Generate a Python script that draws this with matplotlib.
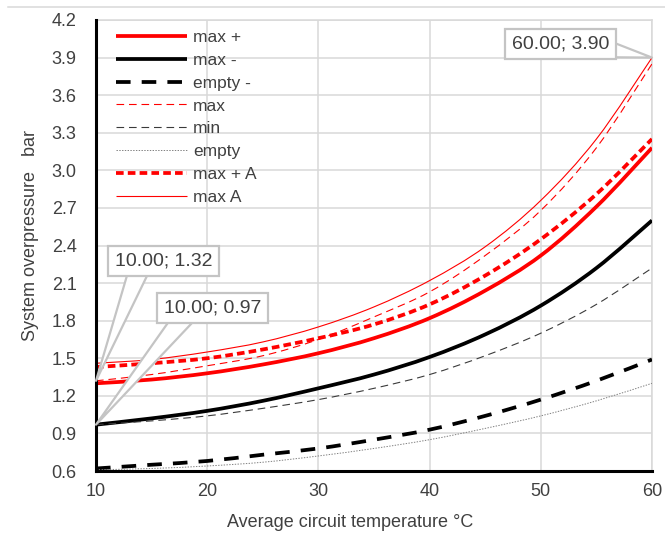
import matplotlib
matplotlib.use("Agg")
import matplotlib.pyplot as plt
from matplotlib.lines import Line2D
from matplotlib.path import Path
from matplotlib.patches import PathPatch

plt.rcParams['font.family'] = ['Liberation Sans', 'DejaVu Sans']
plt.rcParams['lines.scale_dashes'] = False

# ---- data ----
temperature = [10, 15, 20, 25, 30, 35, 40, 45, 50, 55, 60]
max_plus = [1.30, 1.33, 1.38, 1.45, 1.54, 1.66, 1.82, 2.04, 2.32, 2.71, 3.18]
max_minus = [0.97, 1.02, 1.08, 1.16, 1.26, 1.37, 1.51, 1.69, 1.92, 2.22, 2.60]
empty_minus = [0.62, 0.65, 0.68, 0.73, 0.78, 0.85, 0.93, 1.04, 1.17, 1.32, 1.49]
max_ = [1.32, 1.37, 1.44, 1.52, 1.65, 1.83, 2.03, 2.32, 2.68, 3.18, 3.85]
min_ = [0.97, 1.00, 1.04, 1.10, 1.17, 1.26, 1.37, 1.52, 1.70, 1.93, 2.22]
empty = [0.61, 0.62, 0.64, 0.67, 0.72, 0.78, 0.85, 0.94, 1.04, 1.16, 1.30]
max_plus_A = [1.43, 1.46, 1.50, 1.57, 1.66, 1.77, 1.93, 2.16, 2.45, 2.81, 3.25]
max_A = [1.46, 1.49, 1.55, 1.63, 1.75, 1.91, 2.12, 2.39, 2.76, 3.25, 3.90]

series_names = ['max +', 'max -', 'empty -', 'max', 'min', 'empty', 'max + A', 'max A']
series_values = [max_plus, max_minus, empty_minus, max_, min_, empty, max_plus_A, max_A]

x_ticks = [10, 20, 30, 40, 50, 60]
y_ticks = [0.6, 0.9, 1.2, 1.5, 1.8, 2.1, 2.4, 2.7, 3.0, 3.3, 3.6, 3.9, 4.2]

callouts = [(10, 1.32), (10, 0.97), (60, 3.90)]

# ---- styles ----
RED = '#ff0000'
styles = [
    dict(color=RED, lw=2.7, ls='-'),
    dict(color='black', lw=2.7, ls='-'),
    dict(color='black', lw=2.7, ls=(0, (10.5, 8))),
    dict(color=RED, lw=0.8, ls=(0, (5.5, 3.5))),
    dict(color='#3a3a3a', lw=0.8, ls=(0, (5.5, 3.5))),
    dict(color='#808080', lw=0.7, ls=(0, (1, 1))),
    dict(color=RED, lw=2.7, ls=(0, (5.5, 3))),
    dict(color=RED, lw=0.8, ls='-'),
]


def smooth_path(xs, ys):
    """Excel-like smoothed line: Catmull-Rom segments rendered as cubic Beziers."""
    pts = list(zip(xs, ys))
    n = len(pts)
    verts = [pts[0]]
    codes = [Path.MOVETO]
    for i in range(n - 1):
        p0 = pts[i - 1] if i > 0 else pts[i]
        p1 = pts[i]
        p2 = pts[i + 1]
        p3 = pts[i + 2] if i + 2 < n else pts[i + 1]
        c1 = (p1[0] + (p2[0] - p0[0]) / 6, p1[1] + (p2[1] - p0[1]) / 6)
        c2 = (p2[0] - (p3[0] - p1[0]) / 6, p2[1] - (p3[1] - p1[1]) / 6)
        verts += [c1, c2, p2]
        codes += [Path.CURVE4] * 3
    return Path(verts, codes)


fig = plt.figure(figsize=(6.65, 5.46), dpi=100)
ax = fig.add_axes([96/665, 1-471/546, 556/665, 451/546])

handles = []
for name, vals, st in zip(series_names, series_values, styles):
    patch = PathPatch(smooth_path(temperature, vals), fill=False, edgecolor=st['color'],
                      lw=st['lw'], linestyle=st['ls'], capstyle='butt', joinstyle='round',
                      zorder=3)
    ax.add_patch(patch)
    handles.append(Line2D([], [], color=st['color'], lw=st['lw'], linestyle=st['ls'],
                          solid_capstyle='butt', dash_capstyle='butt'))

ax.set_xlim(10, 60)
ax.set_ylim(0.6, 4.2)
ax.set_xticks(x_ticks)
ax.set_yticks(y_ticks)
ax.set_yticklabels([f'{v:.1f}' for v in y_ticks])
ax.grid(True, color='#d9d9d9', lw=1.1)
ax.set_axisbelow(True)
ax.tick_params(length=0, labelsize=13, colors='#404040')
ax.tick_params(axis='y', pad=14)
ax.tick_params(axis='x', pad=9)
for s in ['top', 'right']:
    ax.spines[s].set_color('#d9d9d9')
    ax.spines[s].set_linewidth(1.1)
for s in ['left', 'bottom']:
    ax.spines[s].set_color('black')
    ax.spines[s].set_linewidth(2.2)
    ax.spines[s].set_zorder(4)

ax.set_xlabel('Average circuit temperature °C', fontsize=13, color='#404040')
ax.set_ylabel('System overpressure   bar', fontsize=13, color='#404040')
ax.xaxis.set_label_coords(0.457, -0.095)
ax.yaxis.set_label_coords(-0.102, 0.523)

leg = ax.legend(handles, series_names, loc='upper left',
                bbox_to_anchor=((116-96)/556, (471-30)/451),
                frameon=False, fontsize=12.5, handlelength=4.1, handletextpad=0.35,
                labelspacing=0.44, borderpad=0, borderaxespad=0)
for t in leg.get_texts():
    t.set_color('#404040')

box_pos = [(16.1, 2.276), (20.5, 1.9), (51.8, 4.008)]
rel_pos = [(0.28, 0.5), (0.28, 0.5), (0.85, 0.35)]
for (px, py), (tx, ty), rp in zip(callouts, box_pos, rel_pos):
    ax.annotate(f'{px:.2f}; {py:.2f}', xy=(px, py), xytext=(tx, ty),
                ha='center', va='center', fontsize=14, color='#404040',
                bbox=dict(boxstyle='square,pad=0.35', fc='white', ec='#c4c4c4', lw=1.6),
                arrowprops=dict(arrowstyle='wedge,tail_width=1.1', fc='white', ec='#c4c4c4',
                                lw=1.6, patchA=None, shrinkA=0, shrinkB=0, relpos=rp),
                annotation_clip=False, zorder=5)

fig.add_artist(Line2D([8/665, 1], [1-7/546, 1-7/546], transform=fig.transFigure,
                      color='#d9d9d9', lw=1.1))

fig.savefig('out.png', dpi=100)
